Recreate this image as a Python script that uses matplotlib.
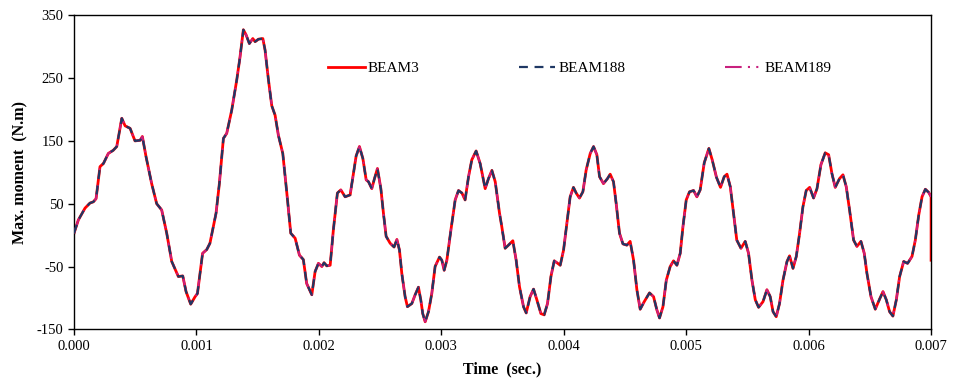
import matplotlib
matplotlib.use("Agg")
import matplotlib.pyplot as plt
import numpy as np
from matplotlib.ticker import FormatStrFormatter

plt.rcParams["font.family"] = ["Liberation Serif", "DejaVu Serif"]
plt.rcParams["axes.unicode_minus"] = False

# time in milliseconds
time_ms = [
    0.000, 0.035, 0.090, 0.130, 0.158, 0.180, 0.212, 0.240, 0.280, 0.320,
    0.349, 0.390, 0.417, 0.458, 0.498, 0.540, 0.558, 0.588, 0.634, 0.675,
    0.716, 0.757, 0.798, 0.852, 0.888, 0.915, 0.953, 0.989, 1.008, 1.050,
    1.084, 1.110, 1.160, 1.187, 1.220, 1.247, 1.288, 1.329, 1.356, 1.383,
    1.405, 1.432, 1.460, 1.479, 1.506, 1.542, 1.560, 1.588, 1.615, 1.642,
    1.669, 1.705, 1.738, 1.770, 1.806, 1.841, 1.873, 1.900, 1.942, 1.969,
    1.996, 2.024, 2.042, 2.064, 2.092, 2.118, 2.151, 2.179, 2.214, 2.255,
    2.282, 2.304, 2.331, 2.359, 2.386, 2.405, 2.432, 2.451, 2.478, 2.506,
    2.527, 2.549, 2.582, 2.614, 2.637, 2.658, 2.677, 2.704, 2.723, 2.759,
    2.786, 2.813, 2.832, 2.848, 2.868, 2.895, 2.922, 2.949, 2.985, 3.004,
    3.023, 3.045, 3.078, 3.113, 3.140, 3.168, 3.194, 3.222, 3.249, 3.284,
    3.317, 3.358, 3.385, 3.413, 3.440, 3.475, 3.494, 3.521, 3.548, 3.584,
    3.611, 3.638, 3.671, 3.693, 3.725, 3.753, 3.780, 3.813, 3.840, 3.867,
    3.895, 3.922, 3.944, 3.971, 3.998, 4.025, 4.052, 4.079, 4.101, 4.128,
    4.156, 4.183, 4.216, 4.243, 4.270, 4.292, 4.324, 4.357, 4.379, 4.406,
    4.428, 4.455, 4.483, 4.515, 4.542, 4.570, 4.597, 4.624, 4.657, 4.700,
    4.733, 4.760, 4.782, 4.810, 4.837, 4.869, 4.896, 4.924, 4.951, 4.973,
    5.000, 5.027, 5.060, 5.087, 5.114, 5.147, 5.185, 5.212, 5.247, 5.280,
    5.310, 5.333, 5.360, 5.386, 5.413, 5.447, 5.482, 5.509, 5.537, 5.564,
    5.591, 5.627, 5.659, 5.686, 5.709, 5.735, 5.762, 5.790, 5.823, 5.844,
    5.872, 5.899, 5.926, 5.953, 5.980, 6.008, 6.040, 6.068, 6.100, 6.135,
    6.163, 6.190, 6.217, 6.252, 6.280, 6.307, 6.334, 6.367, 6.394, 6.427,
    6.454, 6.476, 6.509, 6.544, 6.579, 6.607, 6.634, 6.661, 6.688, 6.716,
    6.743, 6.776, 6.808, 6.844, 6.871, 6.899, 6.926, 6.953, 6.980, 7.000,
]

# max. moment (N.m), BEAM188 / BEAM189 follow the same trace
moment = [
    3, 24, 43, 51, 53, 58, 109, 114, 130, 135,
    141, 186, 174, 170, 150, 151, 157, 125, 82, 50,
    40, 3, -42, -66, -65, -90, -110, -98, -93, -29,
    -23, -13, 35, 82, 154, 162, 199, 247, 284, 327,
    319, 305, 313, 308, 312, 313, 295, 247, 206, 191,
    159, 130, 67, 3, -5, -32, -39, -77, -95, -58,
    -45, -50, -44, -49, -48, 8, 67, 72, 61, 64,
    98, 126, 141, 122, 88, 85, 74, 88, 106, 74,
    35, -2, -13, -19, -7, -24, -61, -98, -114, -109,
    -95, -83, -103, -125, -138, -122, -93, -50, -35, -40,
    -56, -40, 8, 56, 71, 67, 56, 93, 120, 134,
    114, 74, 90, 103, 85, 35, 13, -21, -16, -9,
    -40, -82, -114, -124, -98, -86, -103, -125, -127, -109,
    -66, -41, -44, -48, -24, 19, 61, 76, 67, 59,
    69, 104, 130, 141, 128, 93, 82, 90, 97, 85,
    50, 3, -14, -16, -10, -40, -87, -118, -106, -92,
    -98, -119, -132, -114, -72, -50, -41, -48, -29, 13,
    56, 69, 71, 61, 72, 115, 138, 120, 92, 76,
    93, 97, 77, 35, -8, -21, -10, -29, -72, -103,
    -115, -106, -87, -98, -122, -130, -109, -72, -42, -33,
    -53, -34, 3, 45, 71, 76, 59, 74, 112, 131,
    128, 98, 76, 90, 96, 77, 40, -8, -18, -10,
    -29, -61, -98, -118, -102, -90, -103, -122, -129, -103,
    -66, -42, -45, -34, -8, 32, 61, 73, 68, 61,
]

# BEAM3 ends with a drop at the last step
beam3_time_ms = time_ms + [7.000]
beam3 = moment + [-40]
beam188 = moment
beam189 = moment

x_ticks = [0.000, 0.001, 0.002, 0.003, 0.004, 0.005, 0.006, 0.007]
y_ticks = [-150, -50, 50, 150, 250, 350]

fig = plt.figure(figsize=(9.54, 3.81), dpi=100)
ax = fig.add_axes([0.0776, 0.1357, 0.8984, 0.8241])

t = np.array(time_ms) / 1000.0
t3 = np.array(beam3_time_ms) / 1000.0

ax.plot(t3, beam3, color="#FF0000", lw=2.0, label="BEAM3", zorder=2)
ax.plot(t, beam188, color="#1F3864", lw=1.6, ls=(0, (4, 3)), label="BEAM188", zorder=4)
ax.plot(t, beam189, color="#C8207E", lw=1.5, ls=(0, (8, 3, 1, 3, 1, 3)), label="BEAM189", zorder=3)

ax.set_xlim(0, 0.007)
ax.set_ylim(-150, 350)
ax.set_xticks(x_ticks)
ax.set_yticks(y_ticks)
ax.xaxis.set_major_formatter(FormatStrFormatter("%.3f"))
ax.tick_params(direction="out", length=4, width=1, labelsize=10.5, colors="black")
for s in ax.spines.values():
    s.set_linewidth(1.0)
    s.set_color("black")

ax.set_xlabel("Time  (sec.)", fontsize=11.5, fontweight="bold", labelpad=6)
ax.set_ylabel("Max. moment  (N.m)", fontsize=11.5, fontweight="bold", labelpad=6)

ax.legend(loc="center", bbox_to_anchor=(0.59, 0.832), ncol=3, frameon=False,
          fontsize=11, handlelength=2.4, handletextpad=0.2, columnspacing=6.5)

fig.savefig("out.png", dpi=100)
